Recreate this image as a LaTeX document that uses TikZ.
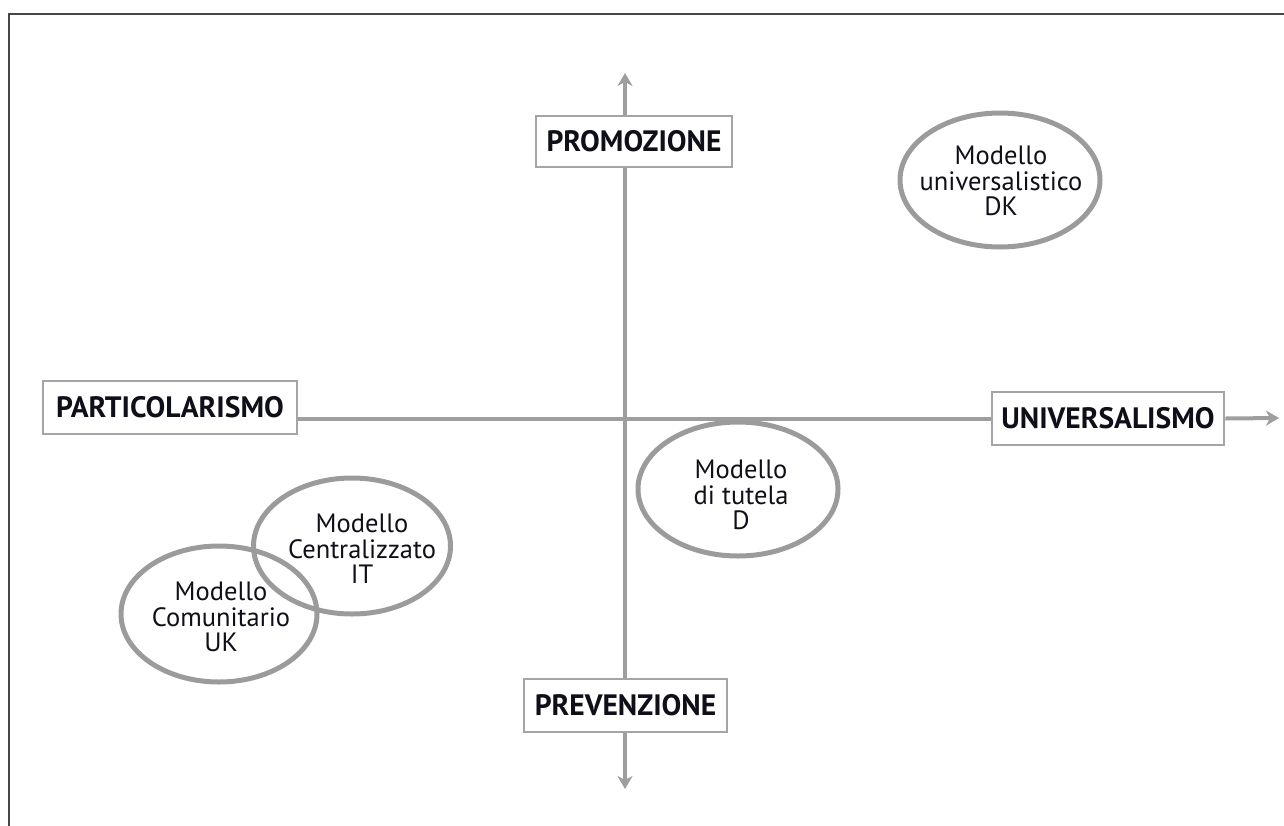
\documentclass[tikz,border=0pt]{standalone}
\usepackage{fontspec}
\setmainfont{PT Sans}
\usetikzlibrary{arrows.meta,shapes.geometric}
\definecolor{axisgray}{RGB}{158,158,158}
\definecolor{boxgray}{RGB}{165,165,165}
\definecolor{ellgray}{RGB}{155,155,155}
\definecolor{framegray}{RGB}{70,70,70}
\definecolor{txt}{RGB}{15,15,25}
\tikzset{
  axis/.style={draw=axisgray,line width=4pt},
  tip/.style={-{Stealth[length=13pt,width=15pt,inset=4pt]}},
  labelbox/.style={draw=boxgray,line width=2.6pt,fill=white,inner sep=0pt,
    font=\fontsize{29.5}{32}\selectfont\bfseries,text=txt},
  model/.style={ellipse,draw=ellgray,line width=5pt,inner sep=0pt},
  modeltext/.style={align=center,inner sep=0pt,text=txt,
    font=\fontsize{26.5}{25.5}\selectfont},
}
\begin{document}
\begin{tikzpicture}[x=1pt,y=-1pt]
\useasboundingbox (0,0) rectangle (1284,825);
% frame
\draw[framegray,line width=2pt] (9,826) -- (9,14) -- (1285,14);
% coordinates
\coordinate (ytop) at (625,73);
\coordinate (ybot) at (625,789);
\coordinate (xend) at (1279,418);
% boxes
\node[labelbox,minimum width=196pt,minimum height=51pt] (prom) at (634,141.5) {PROMOZIONE};
\node[labelbox,minimum width=203pt,minimum height=53pt] (prev) at (625.5,705.5) {PREVENZIONE};
\node[labelbox,minimum width=232pt,minimum height=53pt] (univ) at (1108,418.5) {UNIVERSALISMO};
\node[labelbox,minimum width=254pt,minimum height=53pt] (part) at (170,407.5) {PARTICOLARISMO};
% axes
\draw[axis,tip] (prom.north -| ytop) -- (ytop);
\draw[axis] (prom.south -| ytop) -- (prev.north -| ytop);
\draw[axis,tip] (prev.south -| ybot) -- (ybot);
\draw[axis] (part.east |- univ.west) -- (univ.west);
\draw[axis,tip] (univ.east) -- (xend);
% ellipses
\node[model,minimum width=196pt,minimum height=136pt] (uk) at (219,614) {};
\node[model,minimum width=197pt,minimum height=136pt] (it) at (352,546) {};
\node[model,minimum width=200pt,minimum height=134pt] (d) at (738,489) {};
\node[model,minimum width=200pt,minimum height=134pt] (dk) at (1000,180) {};
\node[modeltext] (uktext) at (221,617) {Modello\\Comunitario\\UK};
\node[modeltext] (ittext) at (362,549) {Modello\\Centralizzato\\IT};
\node[modeltext] (dtext) at (741,495) {Modello\\di tutela\\D};
\node[modeltext] (dktext) at (1001,181) {Modello\\universalistico\\DK};
\end{tikzpicture}
\end{document}
